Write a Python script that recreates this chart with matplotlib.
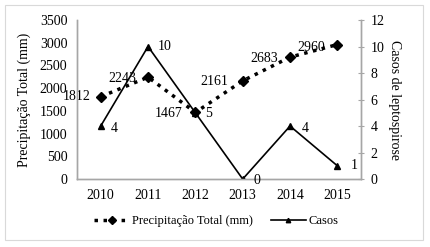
import matplotlib.pyplot as plt
import numpy as np

plt.rcParams['font.family'] = 'Liberation Serif'

# data
anos = ['2010', '2011', '2012', '2013', '2014', '2015']
precipitacao = [1812, 2243, 1467, 2161, 2683, 2960]
casos = [4, 10, 5, 0, 4, 1]

x = np.arange(len(anos))

fig = plt.figure(figsize=(4.31, 2.47), dpi=100)
ax = fig.add_axes([0.1787, 0.275, 0.659, 0.644])
ax2 = ax.twinx()

# precipitation, dotted with diamonds
l1, = ax.plot(x, precipitacao, color='black', linestyle=(0, (1, 1.6)), linewidth=2.5,
              marker='D', markersize=5, label='Precipitação Total (mm)')
# cases, solid with triangles
l2, = ax2.plot(x, casos, color='black', linewidth=1.2, marker='^', markersize=4,
               markerfacecolor='black', label='Casos')

ax.set_xlim(-0.5, 5.5)
ax.set_ylim(0, 3500)
ax.set_yticks(range(0, 3501, 500))
ax2.set_ylim(0, 12)
ax2.set_yticks(range(0, 13, 2))
ax.set_xticks(x)
ax.set_xticklabels(anos)

for a in (ax, ax2):
    a.spines['top'].set_visible(False)
    for s in ('left', 'right', 'bottom'):
        a.spines[s].set_color('#a6a6a6')
        a.spines[s].set_linewidth(1.0)
    a.tick_params(labelsize=10, colors='black')
ax.tick_params(axis='y', length=0, pad=7)
ax.tick_params(axis='x', length=0, pad=7)
ax2.tick_params(axis='y', length=4, color='#a6a6a6', pad=5, direction='inout')

ax.set_ylabel('Precipitação Total (mm)', fontsize=10, labelpad=6)
ax2.set_ylabel('Casos de leptospirose', fontsize=10, rotation=270, labelpad=12)

# labels for precipitation (offsets in pixels)
offs_p = [(-24, 0), (-26, -1), (-27, -1), (-28, -1), (-26, -1), (-26, -3)]
for i, v in enumerate(precipitacao):
    ax.annotate(str(v), (x[i], v), xytext=offs_p[i], textcoords='offset pixels',
                fontsize=10, ha='center', va='center')
# labels for cases
offs_c = [(10, -2), (10, 0), (10, -1), (11, -1), (12, -2), (13, 0)]
for i, v in enumerate(casos):
    ax2.annotate(str(v), (x[i], v), xytext=offs_c[i], textcoords='offset pixels',
                 fontsize=10, ha='left', va='center')

fig.legend(handles=[l1, l2], loc='center', bbox_to_anchor=(0.502, 0.105), ncol=2,
           frameon=False, fontsize=9, handlelength=2.8, columnspacing=1.4,
           handletextpad=0.25, markerscale=0.8)

# outer border
fig.patches.append(plt.Rectangle((0.0116, 0.028), 0.97, 0.951, transform=fig.transFigure,
                                 fill=False, edgecolor='#d9d9d9', linewidth=0.8))

fig.savefig('out.png', dpi=100)
